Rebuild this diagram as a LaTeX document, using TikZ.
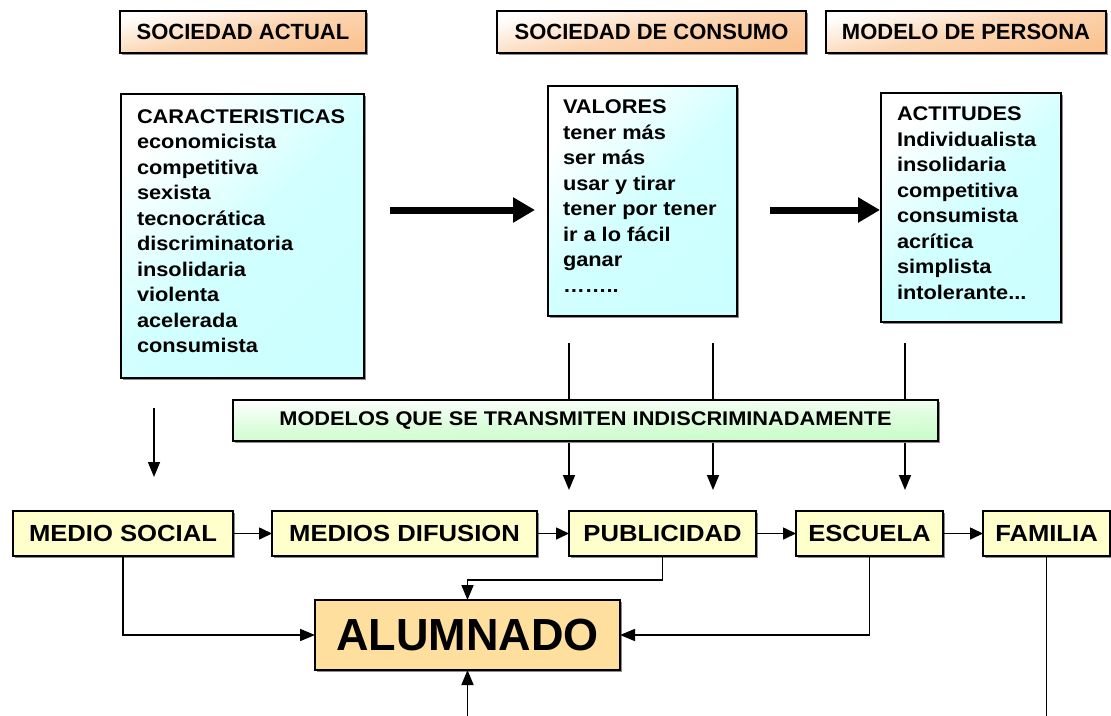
\documentclass[tikz,border=0pt]{standalone}
\usepackage{fontspec}
\setmainfont{Liberation Sans}
\newfontfamily\fs{Liberation Sans}[FakeStretch=1.1]
\usetikzlibrary{arrows.meta,shadows,calc}
\definecolor{hdr}{RGB}{250,195,145}
\definecolor{cy}{RGB}{204,255,255}
\definecolor{gr}{RGB}{200,252,200}
\definecolor{yel}{RGB}{255,255,204}
\definecolor{alu}{RGB}{255,223,157}
\begin{document}
\begin{tikzpicture}[x=1pt,y=-1pt,
  shad/.style={drop shadow={shadow xshift=1.5pt,shadow yshift=-1.5pt,fill=black!45,opacity=1}},
  boxbase/.style={draw=black,line width=1.4pt,inner sep=0pt,outer sep=0pt,anchor=north west,shad},
  hdrbox/.style={boxbase,top color=white,bottom color=hdr,middle color=hdr!70!white,shading angle=12,
    font=\bfseries\fontsize{22}{26}\selectfont},
  cybox/.style={boxbase,top color=white,bottom color=cy,middle color=cy!88!white,shading angle=45},
  grbox/.style={boxbase,top color=white,bottom color=gr,middle color=gr!60!white,shading angle=1,
    font=\fs\bfseries\fontsize{19.8}{24}\selectfont},
  ybox/.style={boxbase,fill=yel,minimum height=45pt,font=\fs\bfseries\fontsize{23.3}{28}\selectfont},
  albox/.style={boxbase,fill=alu,line width=1.7pt,font=\bfseries\fontsize{45}{50}\selectfont},
  txt/.style={inner sep=0pt,outer sep=0pt,anchor=north west,align=left,
    font=\fs\bfseries\fontsize{19.8}{25.5}\selectfont},
  arr/.style={line width=1.6pt,-{Triangle[length=15pt,width=12pt]}},
  sarr/.style={line width=1.6pt,-{Triangle[length=13pt,width=12pt]}},
  bigarr/.style={line width=7pt,-{Triangle[length=22pt,width=24pt]}},
  ln/.style={line width=1.6pt}
]
\useasboundingbox (0,0) rectangle (1111,715);

% headers
\node[hdrbox,minimum width=246pt,minimum height=42pt] (hSA) at (120,11) {SOCIEDAD ACTUAL};
\node[hdrbox,minimum width=309pt,minimum height=42pt] (hSC) at (497,11) {SOCIEDAD DE CONSUMO};
\node[hdrbox,minimum width=280pt,minimum height=42pt] (hMP) at (826,11) {MODELO DE PERSONA};

% cyan boxes
\node[cybox,minimum width=243pt,minimum height=284pt] (bCar) at (121,94) {};
\node[txt] (tCar) at (137,109.5) {CARACTERISTICAS\\economicista\\competitiva\\sexista\\tecnocrática\\discriminatoria\\insolidaria\\violenta\\acelerada\\consumista};
\node[cybox,minimum width=189pt,minimum height=230pt] (bVal) at (548,86) {};
\node[txt] (tVal) at (563,100) {VALORES\\tener más\\ser más\\usar y tirar\\tener por tener\\ir a lo fácil\\ganar\\……..};
\node[cybox,minimum width=180pt,minimum height=229pt] (bAct) at (881,93) {};
\node[txt] (tAct) at (897,107) {ACTITUDES\\Individualista\\insolidaria\\competitiva\\consumista\\acrítica\\simplista\\intolerante...};

% big arrows
\coordinate (b1s) at (390,210);
\coordinate (b1e) at (535,210);
\coordinate (b2s) at (770,210);
\coordinate (b2e) at (880,210);
\draw[bigarr] (b1s) -- (b1e);
\draw[bigarr] (b2s) -- (b2e);

% vertical arrows through the green band
\coordinate (v1s) at (569,343); \coordinate (v1e) at (569,490);
\coordinate (v2s) at (713,343); \coordinate (v2e) at (713,490);
\coordinate (v3s) at (905,343); \coordinate (v3e) at (905,490);
\draw[arr] (v1s) -- (v1e);
\draw[arr] (v2s) -- (v2e);
\draw[arr] (v3s) -- (v3e);

\node[grbox,minimum width=705pt,minimum height=41pt] (gM) at (233,400) {MODELOS QUE SE TRANSMITEN INDISCRIMINADAMENTE};

\coordinate (v0s) at (154,408); \coordinate (v0e) at (154,477);
\draw[arr] (v0s) -- (v0e);

% bottom row
\node[ybox,minimum width=220pt] (ms) at (13,511) {MEDIO SOCIAL};
\node[ybox,minimum width=265pt] (md) at (272,511) {MEDIOS DIFUSION};
\node[ybox,minimum width=187pt] (pu) at (569,511) {PUBLICIDAD};
\node[ybox,minimum width=147pt] (es) at (796,511) {ESCUELA};
\node[ybox,minimum width=127pt] (fa) at (983,511) {FAMILIA};

\draw[sarr] (ms.east) -- (md.west);
\draw[sarr] (md.east) -- (pu.west);
\draw[sarr] (pu.east) -- (es.west);
\draw[sarr] (es.east) -- (fa.west);

\node[albox,minimum width=305pt,minimum height=70pt] (al) at (315,600) {ALUMNADO};

\draw[arr] (ms.south) |- (al.west);
\draw[arr] (pu.south) -- ++(0,24) -| (al.north);
\draw[arr] (es.south) |- (al.east);
\coordinate (fb) at (fa.south |- 0,716);
\draw[ln] (fa.south) -- (fb);
\coordinate (ab) at (al.south |- 0,716);
\draw[arr] (ab) -- (al.south);
\end{tikzpicture}
\end{document}
